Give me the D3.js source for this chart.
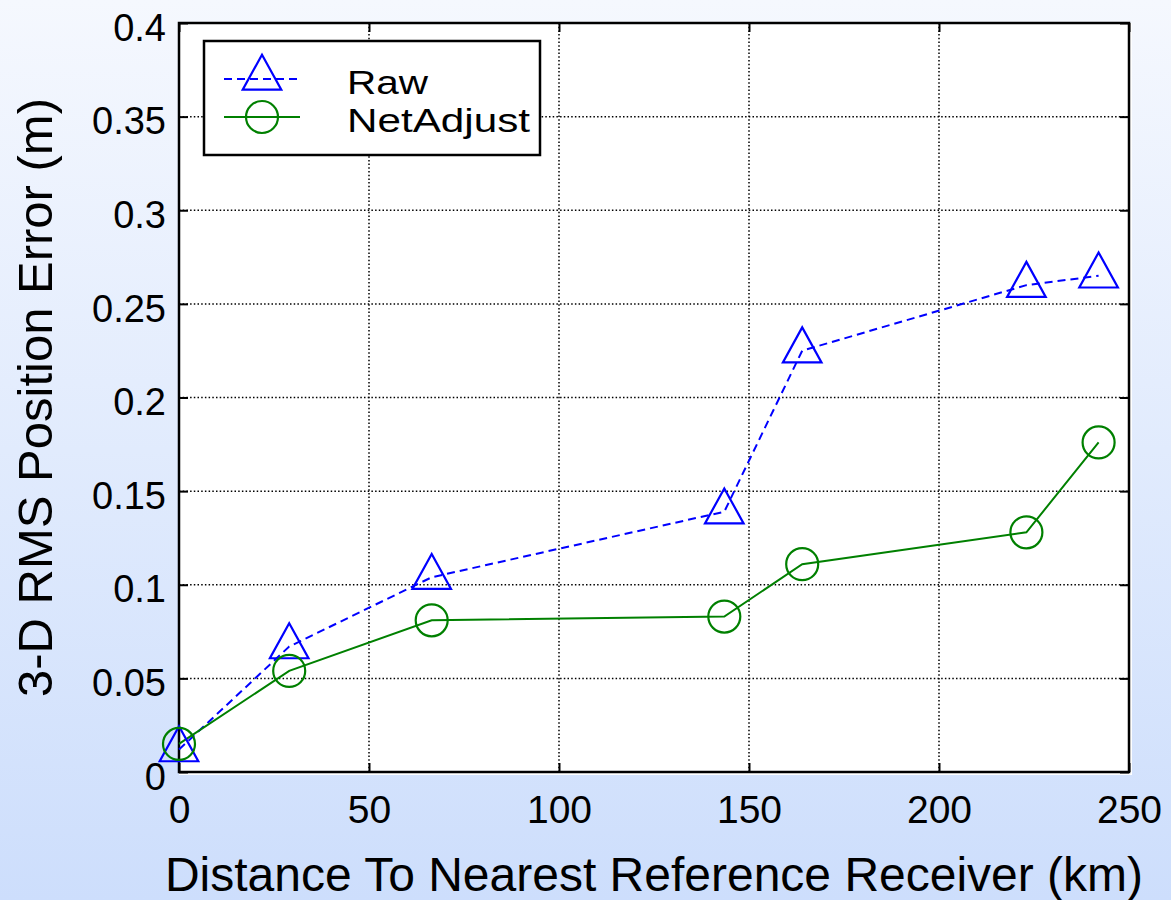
<!DOCTYPE html>
<html>
<head>
<meta charset="utf-8">
<script src="https://cdn.jsdelivr.net/npm/d3@7"></script>
<style>
  html, body { margin: 0; padding: 0; }
  svg { display: block; font-family: "Liberation Sans", Arial, Helvetica, sans-serif; }
</style>
</head>
<body>
<svg id="chart" width="1171" height="900"></svg>
<script>
// Distance to nearest reference receiver (km)
const distanceKm = [0, 29, 66.5, 143.5, 164, 223, 242];
// 3-D RMS position error (m)
const rawError = [0.012, 0.067, 0.104, 0.139, 0.225, 0.260, 0.265];
const netAdjustError = [0.015, 0.054, 0.081, 0.083, 0.111, 0.128, 0.176];

const xTicks = [0, 50, 100, 150, 200, 250];
const yTicks = [0, 0.05, 0.1, 0.15, 0.2, 0.25, 0.3, 0.35, 0.4];
const seriesNames = ["Raw", "NetAdjust"];

const W = 1171, H = 900;
const plot = { left: 179, right: 1129, top: 23, bottom: 772 };

const svg = d3.select("#chart");

// page background gradient
const defs = svg.append("defs");
const grad = defs.append("linearGradient").attr("id", "bg").attr("x1", 0).attr("y1", 0).attr("x2", 0).attr("y2", 1);
grad.append("stop").attr("offset", "0%").attr("stop-color", "#f5f8fe");
grad.append("stop").attr("offset", "100%").attr("stop-color", "#cddefc");
svg.append("rect").attr("width", W).attr("height", H).attr("fill", "url(#bg)");

const x = d3.scaleLinear().domain([0, 250]).range([plot.left, plot.right]);
const y = d3.scaleLinear().domain([0, 0.4]).range([plot.bottom, plot.top]);

// white axes area
svg.append("rect")
  .attr("x", plot.left).attr("y", plot.top)
  .attr("width", plot.right - plot.left + 3).attr("height", plot.bottom - plot.top + 3)
  .attr("fill", "#ffffff");

// dotted grid
const grid = svg.append("g").attr("stroke", "#000").attr("stroke-width", 1.5).attr("stroke-dasharray", "1.5,2.2");
grid.selectAll(".gx").data(xTicks.slice(1, -1)).join("line")
  .attr("x1", d => x(d)).attr("x2", d => x(d))
  .attr("y1", plot.top).attr("y2", plot.bottom);
grid.selectAll(".gy").data(yTicks.slice(1, -1)).join("line")
  .attr("y1", d => y(d)).attr("y2", d => y(d))
  .attr("x1", plot.left).attr("x2", plot.right);

// axes with inward ticks on all four sides
const tickLen = 9;
const axisBottom = svg.append("g").attr("transform", `translate(0,${plot.bottom})`)
  .call(d3.axisBottom(x).tickValues(xTicks).tickSize(-tickLen).tickFormat(d3.format("d")));
const axisTop = svg.append("g").attr("transform", `translate(0,${plot.top})`)
  .call(d3.axisTop(x).tickValues(xTicks).tickSize(-tickLen).tickFormat(""));
const axisLeft = svg.append("g").attr("transform", `translate(${plot.left},0)`)
  .call(d3.axisLeft(y).tickValues(yTicks).tickSize(-tickLen).tickPadding(13).tickFormat(d => d === 0 ? "0" : String(+d.toFixed(2))));
const axisRight = svg.append("g").attr("transform", `translate(${plot.right},0)`)
  .call(d3.axisRight(y).tickValues(yTicks).tickSize(-tickLen).tickFormat(""));

[axisBottom, axisTop, axisLeft, axisRight].forEach(g => {
  g.select(".domain").remove();
  g.selectAll(".tick line").attr("stroke", "#000").attr("stroke-width", 2);
  g.selectAll("text").attr("fill", "#000").attr("font-family", '"Liberation Sans", Arial, sans-serif');
});
axisBottom.selectAll("text").attr("font-size", 39).attr("dy", null).attr("y", 51);
axisLeft.selectAll("text").attr("font-size", 38).attr("dy", "0.32em").attr("transform", "translate(0,5)");

// frame
svg.append("rect")
  .attr("x", plot.left).attr("y", plot.top)
  .attr("width", plot.right - plot.left).attr("height", plot.bottom - plot.top)
  .attr("fill", "none").attr("stroke", "#000").attr("stroke-width", 2.5);

// axis titles
svg.append("text")
  .attr("x", 654).attr("y", 891)
  .attr("text-anchor", "middle").attr("font-size", 48).attr("fill", "#000")
  .text("Distance To Nearest Reference Receiver (km)");
svg.append("text")
  .attr("transform", `translate(52,${(plot.top + plot.bottom) / 2}) rotate(-90)`)
  .attr("text-anchor", "middle").attr("font-size", 49).attr("fill", "#000")
  .text("3-D RMS Position Error (m)");

// series
const blue = "#0000ff", green = "#008000";
const triPath = "M0,-23.3 L19.3,11.7 L-19.3,11.7 Z";
const line = d3.line().x(d => x(d[0])).y(d => y(d[1]));

const rawPts = distanceKm.map((d, i) => [d, rawError[i]]);
const netPts = distanceKm.map((d, i) => [d, netAdjustError[i]]);

svg.append("path").datum(rawPts).attr("d", line)
  .attr("fill", "none").attr("stroke", blue).attr("stroke-width", 2).attr("stroke-dasharray", "8,5");
svg.append("path").datum(netPts).attr("d", line)
  .attr("fill", "none").attr("stroke", green).attr("stroke-width", 2);

svg.append("g").selectAll("path").data(rawPts).join("path")
  .attr("transform", d => `translate(${x(d[0])},${y(d[1])})`)
  .attr("d", triPath).attr("fill", "none").attr("stroke", blue).attr("stroke-width", 2.2);
svg.append("g").selectAll("circle").data(netPts).join("circle")
  .attr("cx", d => x(d[0])).attr("cy", d => y(d[1])).attr("r", 16)
  .attr("fill", "none").attr("stroke", green).attr("stroke-width", 2.2);

// legend
const lg = svg.append("g");
lg.append("rect").attr("x", 204).attr("y", 41).attr("width", 336).attr("height", 114)
  .attr("fill", "#fff").attr("stroke", "#000").attr("stroke-width", 2.5);
const legendRows = [
  { name: seriesNames[0], color: blue, dash: "8,5", y: 79, marker: "tri", len: 81 },
  { name: seriesNames[1], color: green, dash: null, y: 117, marker: "circ", len: 183 }
];
legendRows.forEach(r => {
  lg.append("line").attr("x1", 224).attr("x2", 300).attr("y1", r.y).attr("y2", r.y)
    .attr("stroke", r.color).attr("stroke-width", 2).attr("stroke-dasharray", r.dash);
  if (r.marker === "tri") {
    lg.append("path").attr("transform", `translate(262,${r.y - 1})`).attr("d", triPath)
      .attr("fill", "none").attr("stroke", r.color).attr("stroke-width", 2.2);
  } else {
    lg.append("circle").attr("cx", 262).attr("cy", r.y).attr("r", 16)
      .attr("fill", "none").attr("stroke", r.color).attr("stroke-width", 2.2);
  }
  lg.append("text").attr("x", 347).attr("y", r.y + 15).attr("font-size", 34)
    .attr("textLength", r.len).attr("lengthAdjust", "spacingAndGlyphs")
    .attr("fill", "#000").text(r.name);
});
</script>
</body>
</html>
